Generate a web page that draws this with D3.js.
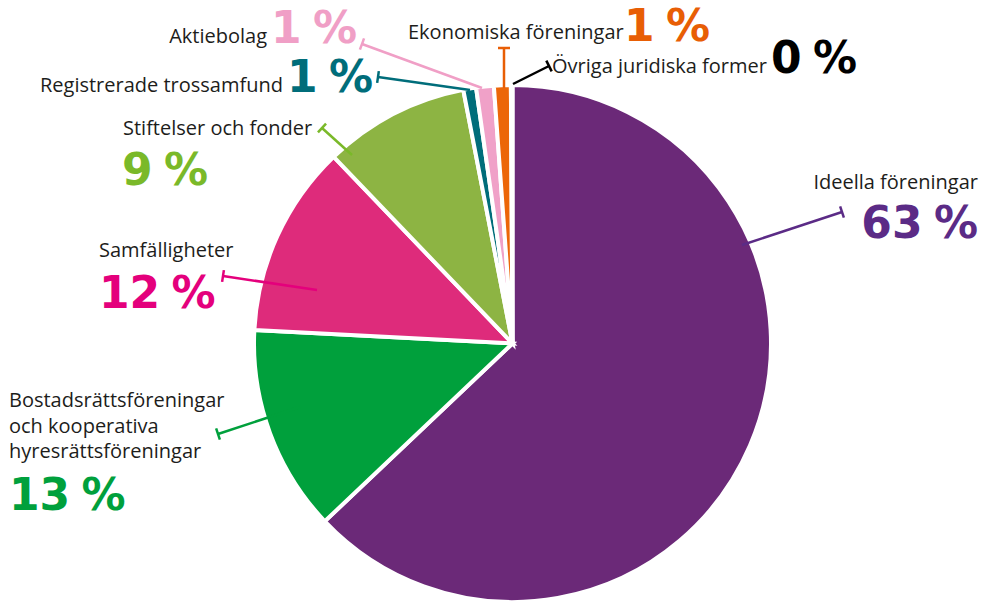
<!DOCTYPE html>
<html>
<head>
<meta charset="utf-8">
<script src="https://cdn.jsdelivr.net/npm/d3@7"></script>
<style>
  body { margin: 0; background: #fff; }
  svg { display: block; }
</style>
</head>
<body>
<svg id="chart" width="987" height="602"></svg>
<script>
// Share of organisations per legal form (percent)
const categories = [
  "Ideella föreningar",
  "Bostadsrättsföreningar och kooperativa hyresrättsföreningar",
  "Samfälligheter",
  "Stiftelser och fonder",
  "Registrerade trossamfund",
  "Aktiebolag",
  "Ekonomiska föreningar",
  "Övriga juridiska former"
];
const shares = [62.9, 12.9, 12.0, 9.1, 0.8, 1.1, 1.05, 0.1];

// Label text broken into lines
const labelLines = [
  ["Ideella föreningar"],
  ["Bostadsrättsföreningar", "och kooperativa", "hyresrättsföreningar"],
  ["Samfälligheter"],
  ["Stiftelser och fonder"],
  ["Registrerade trossamfund"],
  ["Aktiebolag"],
  ["Ekonomiska föreningar"],
  ["Övriga juridiska former"]
];

const sliceColors = ["#6b2978", "#00a03c", "#de2b7b", "#8db443", "#006d7a", "#f0a1c8", "#ec6608", "#000000"];
const textColors  = ["#5b2b86", "#00a03c", "#e4007c", "#7ab929", "#006d7a", "#f09fc6", "#e85e05", "#000000"];

// Callout placement: label block, percentage, leader line (tick end -> inner end)
const callouts = [
  { lx: 978, ly: 189, la: "end",   px: 978, py: 238, pa: "end",   tick: [842, 212], inner: [742, 245] },
  { lx: 9,   ly: 407, la: "start", px: 9,   py: 510, pa: "start", tick: [218, 434], inner: [300, 407] },
  { lx: 99,  ly: 257, la: "start", px: 99,  py: 308, pa: "start", tick: [223, 276], inner: [317, 290] },
  { lx: 123, ly: 135, la: "start", px: 122, py: 185, pa: "start", tick: [322, 128], inner: [352, 155] },
  { lx: 283, ly: 92,  la: "end",   px: 287, py: 92,  pa: "start", tick: [378, 77],  inner: [470, 90] },
  { lx: 267, ly: 43,  la: "end",   px: 271, py: 43,  pa: "start", tick: [362, 44],  inner: [482, 88] },
  { lx: 408, ly: 39,  la: "start", px: 624, py: 41,  pa: "start", tick: [504, 48],  inner: [504, 88] },
  { lx: 552, ly: 73,  la: "start", px: 771, py: 73,  pa: "start", tick: [549, 66],  inner: [513, 84] }
];

const svg = d3.select("#chart");
const cx = 512.5, cy = 343.5, radius = 258.5;

const data = categories.map((name, i) => ({ name, value: shares[i], i }));

const pie = d3.pie().sort(null).value(d => d.value).startAngle(0).endAngle(2 * Math.PI);
const arc = d3.arc().innerRadius(0).outerRadius(radius);

const g = svg.append("g").attr("transform", `translate(${cx},${cy})`);

g.selectAll("path.slice")
  .data(pie(data))
  .join("path")
  .attr("class", "slice")
  .attr("d", arc)
  .attr("fill", d => sliceColors[d.data.i])
  .attr("stroke", "#fff")
  .attr("stroke-width", 4)
  .attr("stroke-linejoin", "miter");

// Leader lines with a perpendicular cap at the label end
const leaders = svg.append("g").attr("class", "leaders");
callouts.forEach((c, i) => {
  const [x1, y1] = c.tick, [x2, y2] = c.inner;
  const len = Math.hypot(x2 - x1, y2 - y1);
  const nx = -(y2 - y1) / len, ny = (x2 - x1) / len;
  const half = 6;
  leaders.append("line")
    .attr("x1", x1).attr("y1", y1).attr("x2", x2).attr("y2", y2)
    .attr("stroke", textColors[i]).attr("stroke-width", 2.5);
  leaders.append("line")
    .attr("x1", x1 - nx * half).attr("y1", y1 - ny * half)
    .attr("x2", x1 + nx * half).attr("y2", y1 + ny * half)
    .attr("stroke", textColors[i]).attr("stroke-width", 2.5);
});

// Category labels
const labels = svg.append("g").attr("class", "labels");
callouts.forEach((c, i) => {
  const t = labels.append("text")
    .attr("x", c.lx).attr("y", c.ly)
    .attr("text-anchor", c.la)
    .attr("font-family", "'Open Sans', 'Noto Sans', sans-serif")
    .attr("font-size", 20)
    .attr("fill", "#1d1d1b");
  labelLines[i].forEach((line, k) => {
    t.append("tspan").attr("x", c.lx).attr("dy", k === 0 ? 0 : 25.5).text(line);
  });
});

// Percentages, rounded from the slice values
const pctFormat = v => `${Math.round(v)} %`;
callouts.forEach((c, i) => {
  labels.append("text")
    .attr("x", c.px).attr("y", c.py)
    .attr("text-anchor", c.pa)
    .attr("font-family", "'DejaVu Sans', sans-serif")
    .attr("font-weight", "bold")
    .attr("font-size", 44)
    .attr("word-spacing", -4)
    .attr("fill", textColors[i])
    .text(pctFormat(shares[i]));
});
</script>
</body>
</html>
